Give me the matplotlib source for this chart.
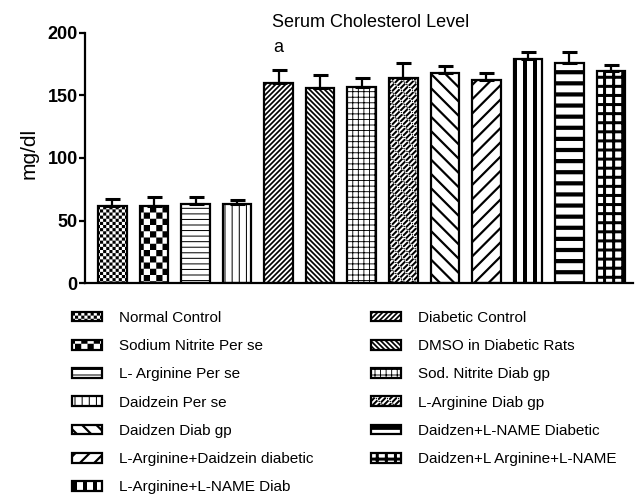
import warnings
warnings.filterwarnings('ignore')
import numpy as np
import matplotlib
matplotlib.use('Agg')
import matplotlib.pyplot as plt
import matplotlib.hatch as mhatch
from matplotlib.path import Path

# ---------------- data ----------------
groups = ["Normal Control", "Sodium Nitrite Per se", "L- Arginine Per se",
          "Daidzein Per se", "Diabetic Control", "DMSO in Diabetic Rats",
          "Sod. Nitrite Diab gp", "L-Arginine Diab gp", "Daidzen Diab gp",
          "L-Arginine+Daidzein diabetic", "L-Arginine+L-NAME Diab",
          "Daidzen+L-NAME Diabetic", "Daidzen+L Arginine+L-NAME"]
means = [61.8, 62.0, 63.0, 63.2, 160.0, 155.7, 156.5, 163.7, 167.7, 162.4,
         179.0, 176.3, 169.6]
sems = [5.2, 6.5, 5.5, 3.0, 10.5, 10.7, 7.2, 12.0, 6.0, 5.3, 5.5, 8.2, 4.4]
yticks = [0, 50, 100, 150, 200]
title = "Serum Cholesterol Level"
ylabel = "mg/dl"
sig_label = "a"
sig_bar = 4
sig_y = 188

# ---------------- custom fill patterns (hatch tile = 1 inch = 100 px) ----------------
PX = 1.0 / 100.0

def hbands(n, w):
    out = []
    for k in range(n):
        c = (k + 0.5) / n
        out.append([(-0.02, c - w / 2), (1.02, c - w / 2), (1.02, c + w / 2), (-0.02, c + w / 2)])
    return out

def vbands(n, w):
    out = []
    for k in range(n):
        c = (k + 0.5) / n
        out.append([(c - w / 2, -0.02), (c + w / 2, -0.02), (c + w / 2, 1.02), (c - w / 2, 1.02)])
    return out

def dbands(n, w, up=True):
    out = []
    d = w * np.sqrt(2) / 2
    for k in range(-n - 2, 2 * n + 3):
        c = k / n
        if up:
            out.append([(c - d - 0.1, -0.1), (c + d - 0.1, -0.1), (c + d + 1.1, 1.1), (c - d + 1.1, 1.1)])
        else:
            out.append([(c - d - 0.1, 1.1), (c + d - 0.1, 1.1), (c + d + 1.1, -0.1), (c - d + 1.1, -0.1)])
    return out

def checker(n):
    out = []
    s = 1.0 / n
    for i in range(n):
        for j in range(n):
            if (i + j) % 2 == 0:
                out.append([(i * s, j * s), ((i + 1) * s, j * s), ((i + 1) * s, (j + 1) * s), (i * s, (j + 1) * s)])
    return out

PATTERNS = {
    'A': lambda: checker(32),
    'B': lambda: checker(16),
    'C': lambda: hbands(18, 1.0 * PX),
    'D': lambda: vbands(14, 1.0 * PX),
    'E': lambda: dbands(20, 1.7 * PX, True),
    'F': lambda: dbands(20, 1.7 * PX, False),
    'G': lambda: hbands(18, 0.9 * PX) + vbands(18, 0.9 * PX),
    'H': lambda: dbands(18, 2.0 * PX, True) + dbands(9, 1.0 * PX, False),
    'I': lambda: dbands(7, 2.2 * PX, False),
    'J': lambda: dbands(7, 2.2 * PX, True),
    'K': lambda: vbands(10, 4.0 * PX),
    'L': lambda: hbands(9, 4.2 * PX),
    'M': lambda: hbands(11, 3.0 * PX) + vbands(11, 3.0 * PX),
}

class CustomFill(mhatch.HatchPatternBase):
    def __init__(self, hatch, density):
        polys = []
        for ch in sorted(set(hatch or '')):
            if ch in PATTERNS:
                polys.extend(PATTERNS[ch]())
        self.polys = polys
        self.num_vertices = sum(len(p) + 1 for p in polys)

    def set_vertices_and_codes(self, vertices, codes):
        i = 0
        for p in self.polys:
            n = len(p)
            vertices[i:i + n] = p
            vertices[i + n] = p[0]
            codes[i] = Path.MOVETO
            codes[i + 1:i + n] = Path.LINETO
            codes[i + n] = Path.CLOSEPOLY
            i += n + 1

mhatch._hatch_types.append(CustomFill)
fills = ['A', 'B', 'C', 'D', 'E', 'F', 'G', 'H', 'I', 'J', 'K', 'L', 'M']

# ---------------- figure ----------------
plt.rcParams['font.family'] = ['Liberation Sans', 'DejaVu Sans']
plt.rcParams['hatch.linewidth'] = 0.0

fig = plt.figure(figsize=(6.36, 4.98), dpi=100)
ax = fig.add_axes([85 / 636, 215 / 498, 548 / 636, 250 / 498])

x = np.arange(len(groups))
bars = ax.bar(x, means, width=0.686, color='white', edgecolor='black',
              linewidth=1.6, zorder=2)
for b, h in zip(bars, fills):
    b.set_hatch(h)

ax.errorbar(x, means, yerr=[np.zeros(len(sems)), sems], fmt='none',
            ecolor='black', elinewidth=1.6, capsize=5.4, capthick=2.2, zorder=3)

ax.set_xlim(-0.662, 12.53)
ax.set_ylim(0, 200)
ax.set_yticks(yticks)
ax.set_yticklabels([str(t) for t in yticks], fontweight='bold', fontsize=13)
ax.tick_params(axis='y', direction='out', length=4.6, width=1.6, pad=0.6)
ax.tick_params(axis='x', bottom=False, labelbottom=False)
for s in ['top', 'right']:
    ax.spines[s].set_visible(False)
for s in ['left', 'bottom']:
    ax.spines[s].set_linewidth(1.6)
ax.set_ylabel(ylabel, fontsize=15)
ax.yaxis.set_label_coords(-0.084, 0.52)

ax.text(sig_bar, sig_y, sig_label, ha='center', va='center', fontsize=13)
fig.text(371 / 636, 1 - 27 / 498, title, ha='center', va='baseline', fontsize=13)

order = [0, 1, 2, 3, 8, 9, 10, 4, 5, 6, 7, 11, 12]
fig.legend([bars[i] for i in order], [groups[i] for i in order], ncol=2,
           loc='upper left', bbox_to_anchor=(72 / 636, 1 - 311 / 498),
           frameon=False, fontsize=11, handlelength=1.95, handleheight=0.6,
           handletextpad=1.1, labelspacing=0.93, columnspacing=3.8,
           borderpad=0, borderaxespad=0)

fig.savefig('out.png', dpi=100)
